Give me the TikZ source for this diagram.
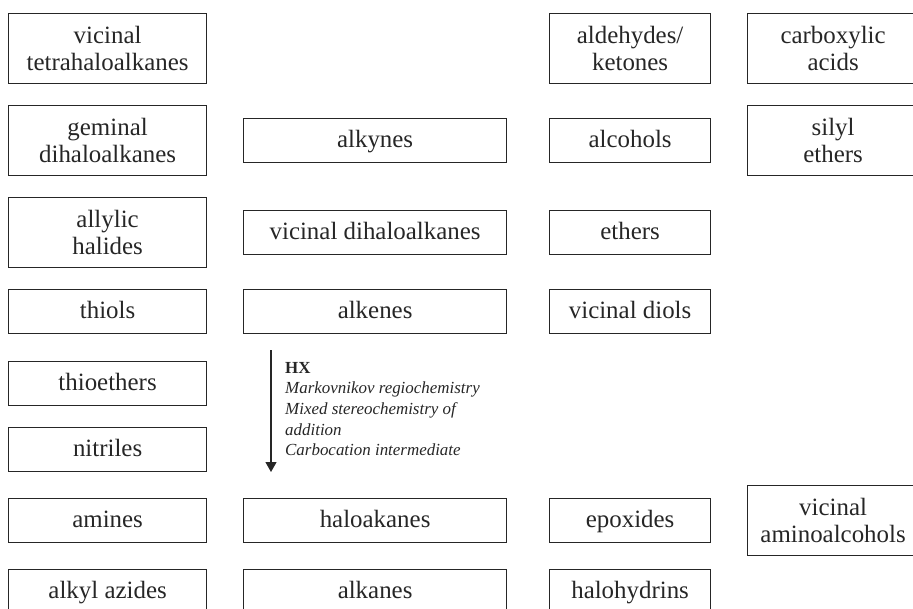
\documentclass[tikz,border=0pt]{standalone}
\usepackage{fontspec}
\setmainfont{Liberation Serif}
\usetikzlibrary{arrows.meta}
\definecolor{ink}{HTML}{262626}
\begin{document}
\begin{tikzpicture}[x=1bp,y=-1bp,
  cpd/.style={draw=ink, text=ink, line width=1.2bp, rectangle, inner sep=0pt,
    anchor=north west, align=center,
    font=\fontsize{25}{27.5}\selectfont},
  one/.style={cpd, minimum height=44bp, text height=18bp, text depth=4bp},
  two/.style={cpd, minimum height=70bp},
  colA/.style={minimum width=198bp},
  colB/.style={minimum width=263bp},
  colC/.style={minimum width=161bp},
  colD/.style={minimum width=171bp},
  rxn/.style={draw=ink, line width=1.3bp, -{Triangle[width=11bp,length=10bp]}},
  cond/.style={text=ink, anchor=north west, inner sep=0pt, align=left,
    font=\fontsize{17}{20.7}\selectfont}]
\useasboundingbox (0,0) rectangle (913,609);
\clip (0,0) rectangle (913,609);

% first column
\node[two,colA] (vtetra)   at (8,13)  {vicinal\\tetrahaloalkanes};
\node[two,colA] (gemdi)    at (8,105) {geminal\\dihaloalkanes};
\node[two,colA] (allyl)    at (8,197) {allylic\\halides};
\node[one,colA] (thiols)   at (8,289) {thiols};
\node[one,colA] (thioeth)  at (8,361) {thioethers};
\node[one,colA] (nitriles) at (8,427) {nitriles};
\node[one,colA] (amines)   at (8,498) {amines};
\node[one,colA] (azides)   at (8,569) {alkyl azides};

% second column
\node[one,colB] (alkynes)  at (243,118) {alkynes};
\node[one,colB] (vicdi)    at (243,210) {vicinal dihaloalkanes};
\node[one,colB] (alkenes)  at (243,289) {alkenes};
\node[one,colB] (haloalk)  at (243,498) {haloakanes};
\node[one,colB] (alkanes)  at (243,569) {alkanes};

% third column
\node[two,colC] (carbonyl) at (549,13)  {aldehydes/\\ketones};
\node[one,colC] (alcohols) at (549,118) {alcohols};
\node[one,colC] (ethers)   at (549,210) {ethers};
\node[one,colC] (diols)    at (549,289) {vicinal diols};
\node[one,colC] (epox)     at (549,498) {epoxides};
\node[one,colC] (halohyd)  at (549,569) {halohydrins};

% fourth column
\node[two,colD] (acids)    at (747,13)  {carboxylic\\acids};
\node[two,colD] (silyl)    at (747,105) {silyl\\ethers};
\node[two,colD] (aminoalc) at (747,485) {vicinal\\aminoalcohols};

% hydrohalogenation of alkenes
\coordinate (hxstart) at (271,350);
\coordinate (hxend)   at (271,472);
\draw[rxn] (hxstart) -- (hxend);
\node[cond] (hxlabel) at (285,362) {\textbf{HX}\\
  \textit{Markovnikov regiochemistry}\\
  \textit{Mixed stereochemistry of}\\
  \textit{addition}\\
  \textit{Carbocation intermediate}};
\end{tikzpicture}
\end{document}
